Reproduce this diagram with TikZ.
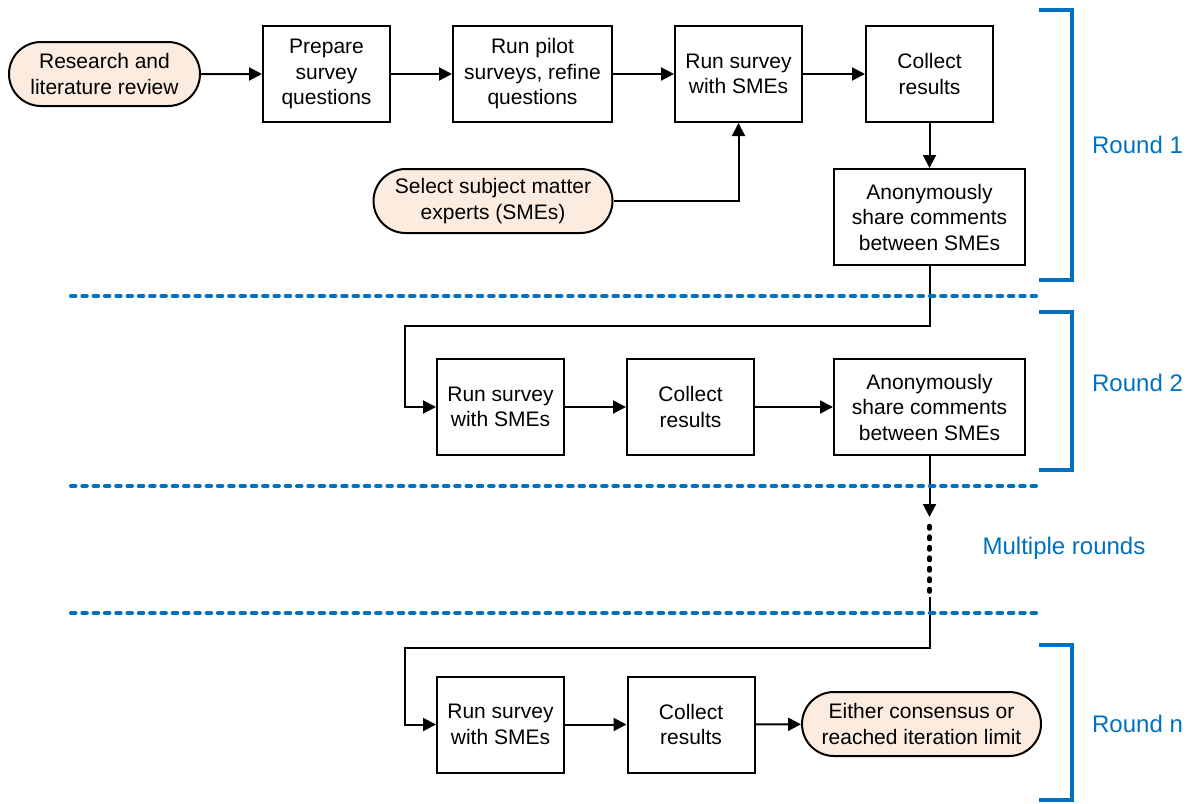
\documentclass[tikz,border=0pt]{standalone}
\usepackage{fontspec}
\setmainfont{Liberation Sans}
\usetikzlibrary{arrows.meta,shapes.misc}
\definecolor{peach}{RGB}{252,236,224}
\definecolor{roundblue}{RGB}{0,112,192}
\tikzset{
  box/.style={draw=black, line width=2pt, fill=white, rectangle, inner sep=0pt,
    align=center, font=\fontsize{21}{25.5}\selectfont},
  term/.style={draw=black, line width=2pt, fill=peach, rounded rectangle, inner sep=0pt,
    align=center, font=\fontsize{21}{25.5}\selectfont},
  link/.style={line width=2pt, -{Triangle[length=13pt,width=13pt]}},
  dottedlink/.style={line width=4.5pt, line cap=round, dash pattern=on 2.5pt off 8pt},
  bracket/.style={draw=roundblue, line width=4pt},
  separator/.style={draw=roundblue, line width=4pt, line cap=round, dash pattern=on 4.5pt off 6.8pt},
  roundlabel/.style={text=roundblue, font=\fontsize{24}{28}\selectfont, inner sep=0pt}
}
\begin{document}
\begin{tikzpicture}[x=1pt, y=-1pt]
\useasboundingbox (0,0) rectangle (1190,803);

% Round 1
\node[term, minimum width=191pt, minimum height=64pt] (lit) at (104.5,74) {Research and\\literature review};
\node[box, minimum width=127pt, minimum height=96pt] (prep) at (326.5,74) {Prepare\\survey\\questions};
\node[box, minimum width=159pt, minimum height=96pt] (pilot) at (532.5,74) {Run pilot\\surveys, refine\\questions};
\node[box, minimum width=127pt, minimum height=96pt] (rs1) at (738.5,74) {Run survey\\with SMEs};
\node[box, minimum width=127pt, minimum height=96pt] (cr1) at (929.5,74) {Collect\\results};
\node[box, minimum width=191pt, minimum height=96pt] (an1) at (929.5,217) {Anonymously\\share comments\\between SMEs};
\node[term, minimum width=239pt, minimum height=64pt] (sel) at (493,201) {Select subject matter\\experts (SMEs)};

\draw[link] (lit) -- (prep);
\draw[link] (prep) -- (pilot);
\draw[link] (pilot) -- (rs1);
\draw[link] (rs1) -- (cr1);
\draw[link] (cr1) -- (an1);
\draw[link] (sel.east) -| (rs1.south);

% Round 2
\node[box, minimum width=127pt, minimum height=96pt] (rs2) at (500.5,407) {Run survey\\with SMEs};
\node[box, minimum width=127pt, minimum height=96pt] (cr2) at (690.5,407) {Collect\\results};
\node[box, minimum width=191pt, minimum height=96pt] (an2) at (929.5,407) {Anonymously\\share comments\\between SMEs};

\coordinate (turn1) at (405,326);
\draw[link] (an1.south) |- (turn1) |- (rs2.west);
\draw[link] (rs2) -- (cr2);
\draw[link] (cr2) -- (an2);

% Intermediate rounds
\coordinate (mid1) at (929.5,517);
\coordinate (mid2) at (929.5,526);
\coordinate (mid3) at (929.5,597);
\coordinate (turn2) at (405,648);
\draw[link] (an2.south) -- (mid1);
\draw[dottedlink] (mid2) -- (mid3);

% Round n
\node[box, minimum width=127pt, minimum height=96pt] (rsn) at (500.5,724.5) {Run survey\\with SMEs};
\node[box, minimum width=127pt, minimum height=96pt] (crn) at (691,724.5) {Collect\\results};
\node[term, minimum width=239pt, minimum height=64pt] (end) at (921.5,724) {Either consensus or\\reached iteration limit};

\draw[link] (mid3) |- (turn2) |- (rsn.west);
\draw[link] (rsn) -- (crn);
\draw[link] (crn) -- (end);

% Round separators
\draw[separator] (71,296) -- (1036,296);
\draw[separator] (71,486) -- (1036,486);
\draw[separator] (71,613) -- (1036,613);

% Round brackets and labels
\draw[bracket] (1039,10) -- (1072,10) -- (1072,280) -- (1039,280);
\draw[bracket] (1039,312) -- (1072,312) -- (1072,470) -- (1039,470);
\draw[bracket] (1039,645) -- (1072,645) -- (1072,800) -- (1039,800);
\node[roundlabel] (r1) at (1137.5,145) {Round 1};
\node[roundlabel] (r2) at (1137.5,383) {Round 2};
\node[roundlabel] (rm) at (1064,548) {Multiple rounds};
\node[roundlabel] (rn) at (1137.5,724) {Round n};
\end{tikzpicture}
\end{document}
